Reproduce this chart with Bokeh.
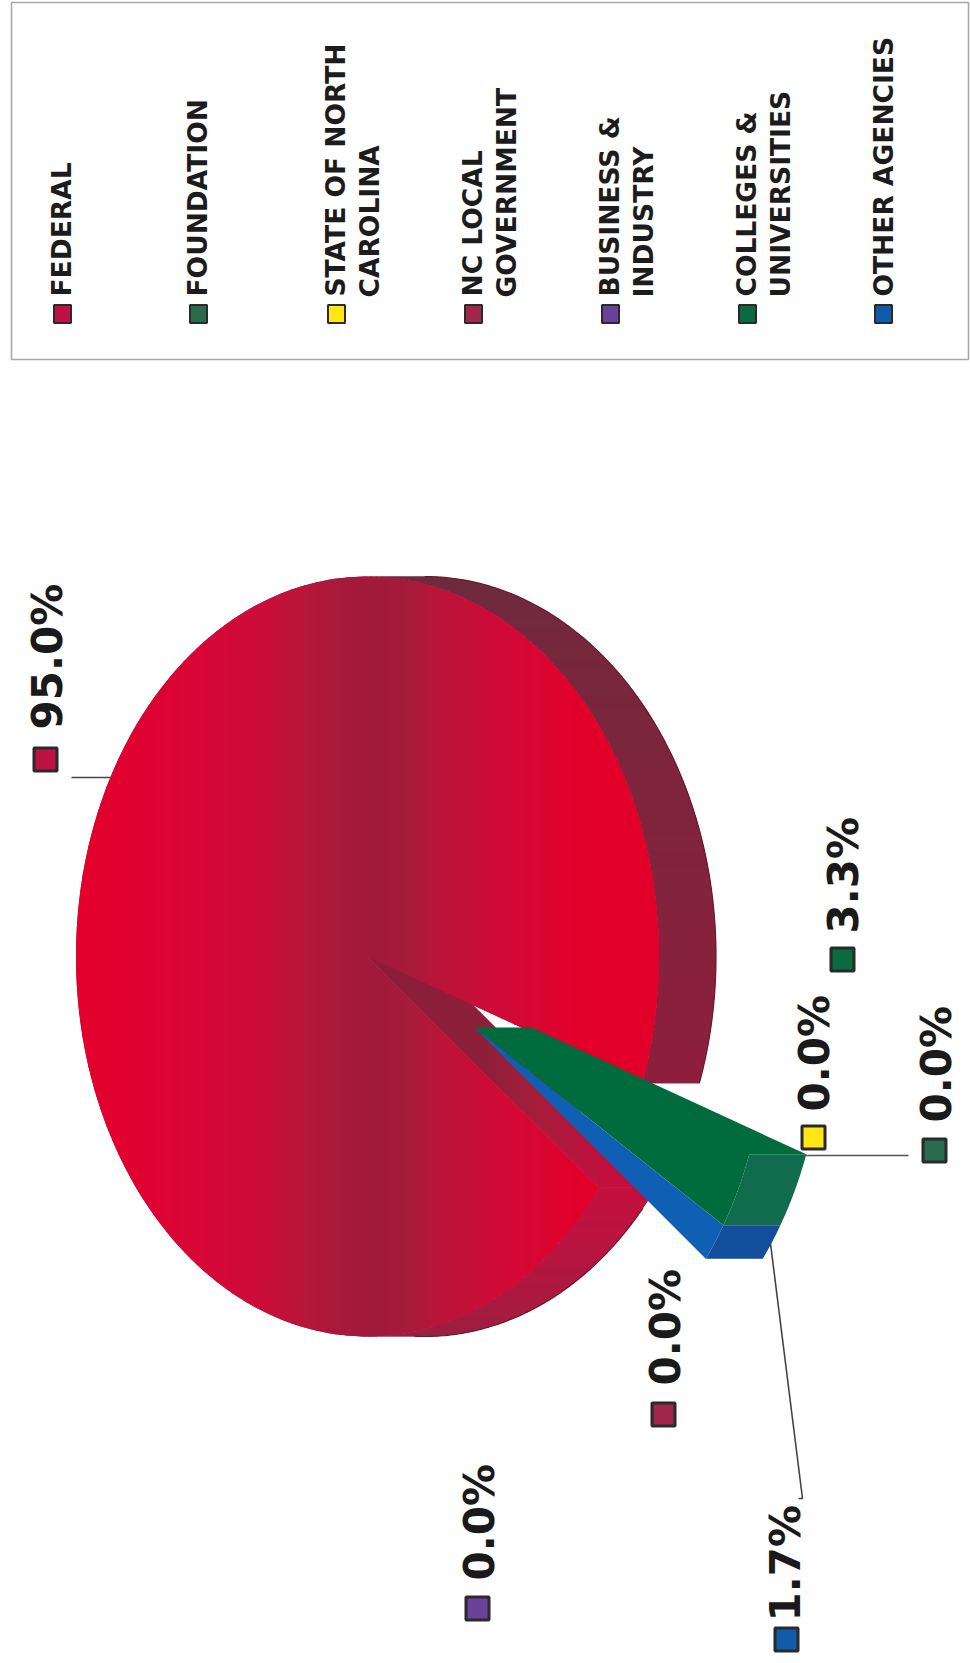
import math
from bokeh.plotting import figure
from bokeh.models import ColumnDataSource, Range1d
from bokeh.core.properties import value
from bokeh.embed import file_html
from bokeh.resources import INLINE

# ---- data
categories = ["FEDERAL", "FOUNDATION", "STATE OF NORTH CAROLINA", "NC LOCAL GOVERNMENT",
              "BUSINESS & INDUSTRY", "COLLEGES & UNIVERSITIES", "OTHER AGENCIES"]
legend_line1 = ["FEDERAL", "FOUNDATION", "STATE OF NORTH", "NC LOCAL", "BUSINESS &", "COLLEGES &", "OTHER AGENCIES"]
legend_line2 = ["", "", "CAROLINA", "GOVERNMENT", "INDUSTRY", "UNIVERSITIES", ""]
values = [95.0, 0.0, 0.0, 0.0, 0.0, 3.3, 1.7]
swatch_colors = ["#BE1244", "#2A6B50", "#FFE614", "#A0264C", "#6A429C", "#0A6B42", "#0F5CA8"]

# ---- layout (page pixels)
W, H = 970, 1663
legend_x1 = [61, 197, 335, 472, 609, 746, 883]
legend_x2 = [0, 0, 369, 506, 643, 780, 0]
swatch_lx = [62, 198, 336, 473, 610, 747, 883]
label_x = [47, 936, 814, 665, 479, 843, 785]
label_y = [729, 1122, 1111, 1385, 1580, 933, 1621]
lab_sw_x = [45, 934, 813, 663, 477, 842, 786]
lab_sw_y = [759, 1150, 1137, 1414, 1608, 959, 1639]

CX, CY, RX, RY, DEPTH = 367.0, 956.0, 291.5, 380.0, 57.0
AX, AY = 474.0, 1027.0     # apex of the pulled-out slices
START = 19.5               # degrees, clockwise on the page


def lerp_color(stops, x):
    if x <= stops[0][0]:
        return stops[0][1]
    for (a, ca), (b, cb) in zip(stops, stops[1:]):
        if x <= b:
            f = (x - a) / (b - a)
            pa = [int(ca[i:i + 2], 16) for i in (1, 3, 5)]
            pb = [int(cb[i:i + 2], 16) for i in (1, 3, 5)]
            return "#%02X%02X%02X" % tuple(round(u + (v - u) * f) for u, v in zip(pa, pb))
    return stops[-1][1]


def arc(cx, cy, t0, t1, n=160):
    return [(cx + RX * math.cos(math.radians(t0 + (t1 - t0) * i / n)),
             cy + RY * math.sin(math.radians(t0 + (t1 - t0) * i / n))) for i in range(n + 1)]


def clip(poly, xlim, keep_right):
    out = []
    for i, a in enumerate(poly):
        b = poly[(i + 1) % len(poly)]
        ia = a[0] >= xlim if keep_right else a[0] <= xlim
        ib = b[0] >= xlim if keep_right else b[0] <= xlim
        if ia:
            out.append(a)
        if ia != ib:
            f = (xlim - a[0]) / (b[0] - a[0])
            out.append((xlim, a[1] + (b[1] - a[1]) * f))
    return out


xs_all, ys_all, col_all = [], [], []


def add(poly, color):
    if len(poly) >= 3:
        xs_all.append([q[0] for q in poly])
        ys_all.append([q[1] for q in poly])
        col_all.append(color)


def add_strips(poly, stops, step=6):
    lo = min(q[0] for q in poly)
    hi = max(q[0] for q in poly)
    add(poly, lerp_color(stops, (lo + hi) / 2))
    x = lo
    while x < hi:
        s = clip(clip(poly, x, True), x + step + 1.2, False)
        add(s, lerp_color(stops, x + step / 2))
        x += step


# slice angles from the data
fed_span = values[0] * 3.6
col_span = values[5] * 3.6
oth_span = values[6] * 3.6
t_col0 = START
t_col1 = t_col0 + col_span
t_oth1 = t_col1 + oth_span
t_fed0 = t_oth1
t_fed1 = t_fed0 + fed_span

# outer rim of the large slice
def add_rim(t0, t1, c0, c1, n=40):
    stops = [(0, c0), (1, c1)]
    base = arc(CX, CY, t0, t1, 120)
    add(base + [(q[0] + DEPTH, q[1]) for q in reversed(base)], lerp_color(stops, .5))
    for i in range(n):
        a = t0 + (t1 - t0) * i / n
        b = min(t0 + (t1 - t0) * (i + 1.3) / n, t1)
        seg = arc(CX, CY, a, b, 6)
        add(seg + [(q[0] + DEPTH, q[1]) for q in reversed(seg)], lerp_color(stops, i / n))


add_rim(-90, START, "#6A2C3E", "#8E1F3C")
add_rim(t_fed0, 92, "#C4103F", "#8E2440")

# cut wall of the large slice
ox = CX + RX * math.cos(math.radians(t_fed0))
oy = CY + RY * math.sin(math.radians(t_fed0))
add_strips([(CX, CY), (CX + DEPTH, CY), (ox + DEPTH, oy), (ox, oy)],
           [(370, "#8A1E3A"), (480, "#8C2038"), (540, "#A81C3C"), (610, "#C4103F"), (660, "#C8103F")], step=8)

# top face of the large slice with its left-right shading
face_stops = [(75, "#E4002C"), (150, "#DE0232"), (255, "#CE0C3A"), (300, "#BA1439"), (340, "#A6193A"),
              (375, "#A01A3A"), (410, "#A61A3A"), (440, "#BA143A"), (500, "#D00A38"), (580, "#E2002A"), (660, "#E2002A")]
add_strips([(CX, CY)] + arc(CX, CY, t_fed0, t_fed1, 360), face_stops)

# pulled-out slices: other agencies, then colleges
oth_arc = arc(AX, AY, t_col1, t_oth1, 20)
add(oth_arc + [(q[0] + DEPTH, q[1]) for q in reversed(oth_arc)], "#124E9C")
add([(AX, AY)] + oth_arc, "#0F60B4")
col_arc = arc(AX, AY, t_col0, t_col1, 30)
add(col_arc + [(q[0] + DEPTH, q[1]) for q in reversed(col_arc)], "#106C4C")
add([(AX, AY), (AX + DEPTH, AY), (col_arc[0][0] + DEPTH, col_arc[0][1])] + col_arc, "#006B3C")

p = figure(width=W, height=H, x_range=Range1d(0, W), y_range=Range1d(H, 0),
           output_backend="svg", toolbar_location=None, min_border=0)
p.axis.visible = False
p.grid.visible = False
p.outline_line_color = None
p.background_fill_color = "white"

p.patches("xs", "ys", fill_color="c", line_color=None,
          source=ColumnDataSource(dict(xs=xs_all, ys=ys_all, c=col_all)))

# thin dark edge along the outside of the rim, stopping clear of the blue slice
edge_up = arc(CX + DEPTH, CY, -90, START, 100)
edge_lo = arc(CX + DEPTH, CY, t_fed0 + 4, 92, 100)
p.multi_line([[q[0] for q in edge_up], [q[0] for q in edge_lo]], [[q[1] for q in edge_up], [q[1] for q in edge_lo]],
             line_color="#6A1A30", line_width=1.2)

# legend frame
p.quad(left=[11], right=[968], top=[2], bottom=[359], fill_color="white", line_color="#A8A8A8", line_width=1.6)

# legend swatches and texts
p.rect(x=swatch_lx, y=[313.5] * 7, width=17, height=18, fill_color=swatch_colors, line_color="#2A2A2A", line_width=2)
font = value("DejaVu Sans")
p.text(x=legend_x1, y=[296] * 7, text=legend_line1, angle=math.pi / 2, text_font=font, text_font_style="bold",
       text_font_size="26.5px", text_color="#1C1C1C", text_align="left", text_baseline="middle")
x2 = [x for x, s in zip(legend_x2, legend_line2) if s]
t2 = [s for s in legend_line2 if s]
p.text(x=x2, y=[297] * len(x2), text=t2, angle=math.pi / 2, text_font=font, text_font_style="bold",
       text_font_size="26.5px", text_color="#1C1C1C", text_align="left", text_baseline="middle")

# leader lines
p.line([71, 111], [777, 777], line_color="#444444", line_width=1.6)
p.line([805, 908], [1155, 1155], line_color="#555555", line_width=1.6)
p.line([770, 802, 798], [1243, 1498, 1498], line_color="#444444", line_width=1.6)

# data labels
p.rect(x=lab_sw_x, y=lab_sw_y, width=23, height=23, fill_color=swatch_colors, line_color="#2A2A2A", line_width=3)
p.text(x=label_x, y=label_y, text=["%.1f%%" % v for v in values], angle=math.pi / 2, text_font=font,
       text_font_style="bold", text_font_size="42px", text_color="#1A1A1A", text_align="left", text_baseline="middle")

open("out.html", "w").write(file_html(p, INLINE))
